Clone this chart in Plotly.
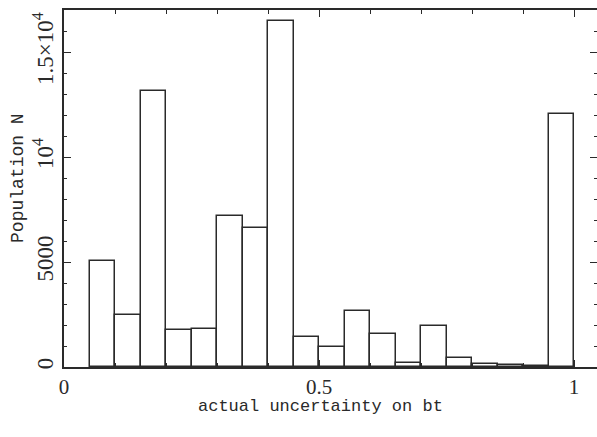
import plotly.graph_objects as go

bin_left = [0.05, 0.10, 0.15, 0.20, 0.25, 0.30, 0.35, 0.40, 0.45, 0.50,
            0.55, 0.60, 0.65, 0.70, 0.75, 0.80, 0.85, 0.90, 0.95]
counts = [5050, 2480, 13150, 1740, 1820, 7200, 6600, 16480, 1450, 950,
          2650, 1590, 210, 1930, 410, 140, 95, 50, 12060]
bin_width = 0.05

y_tickvals = [0, 5000, 10000, 15000]
y_ticktext = ["0", "5000", "10<sup>4</sup>", "1.5×10<sup>4</sup>"]
x_tickvals = [0, 0.5, 1]
x_ticktext = ["0", "0.5", "1"]

ink = "#2a2a2a"
fig = go.Figure(go.Bar(
    x=[b + bin_width / 2 for b in bin_left],
    y=counts,
    width=bin_width,
    marker=dict(color="white", line=dict(color=ink, width=1.5)),
))

title_font = dict(family="Liberation Mono", size=17, color=ink)
fig.update_layout(
    width=597, height=437,
    margin=dict(l=64, r=0, t=10, b=70),
    plot_bgcolor="white", paper_bgcolor="white",
    showlegend=False, bargap=0,
    annotations=[
        dict(text="actual uncertainty on bt", xref="paper", yref="paper",
             x=0.482, y=-0.112, xanchor="center", yanchor="middle",
             showarrow=False, font=title_font),
        dict(text="Population N", xref="paper", yref="paper",
             x=-0.086, y=0.53, xanchor="center", yanchor="middle",
             textangle=-90, showarrow=False,
             font=dict(family="Liberation Mono", size=18, color=ink)),
    ],
)
fig.update_xaxes(
    range=[0, 1.045], tickvals=x_tickvals, ticktext=x_ticktext, automargin=False,
    ticks="inside", ticklen=7, tickwidth=1.3, tickcolor=ink,
    minor=dict(dtick=0.1, tick0=0, ticks="inside", ticklen=4, tickwidth=1.2, tickcolor=ink),
    showline=True, linecolor=ink, linewidth=1.8, mirror="ticks",
    showgrid=False, zeroline=False,
    tickfont=dict(family="Liberation Serif", size=21, color=ink),
)
fig.update_yaxes(
    range=[0, 17000], tickvals=y_tickvals, ticktext=y_ticktext, tickangle=-90,
    automargin=False,
    ticks="inside", ticklen=7, tickwidth=1.3, tickcolor=ink,
    minor=dict(dtick=1000, tick0=0, ticks="inside", ticklen=3.5, tickwidth=1.2, tickcolor=ink),
    showline=True, linecolor=ink, linewidth=1.8, mirror="ticks",
    showgrid=False, zeroline=False,
    tickfont=dict(family="Liberation Serif", size=23, color=ink), ticklabelstandoff=0,
)

fig.write_html("out.html", config={"displayModeBar": False},
               post_script="document.body.style.margin='0';")
